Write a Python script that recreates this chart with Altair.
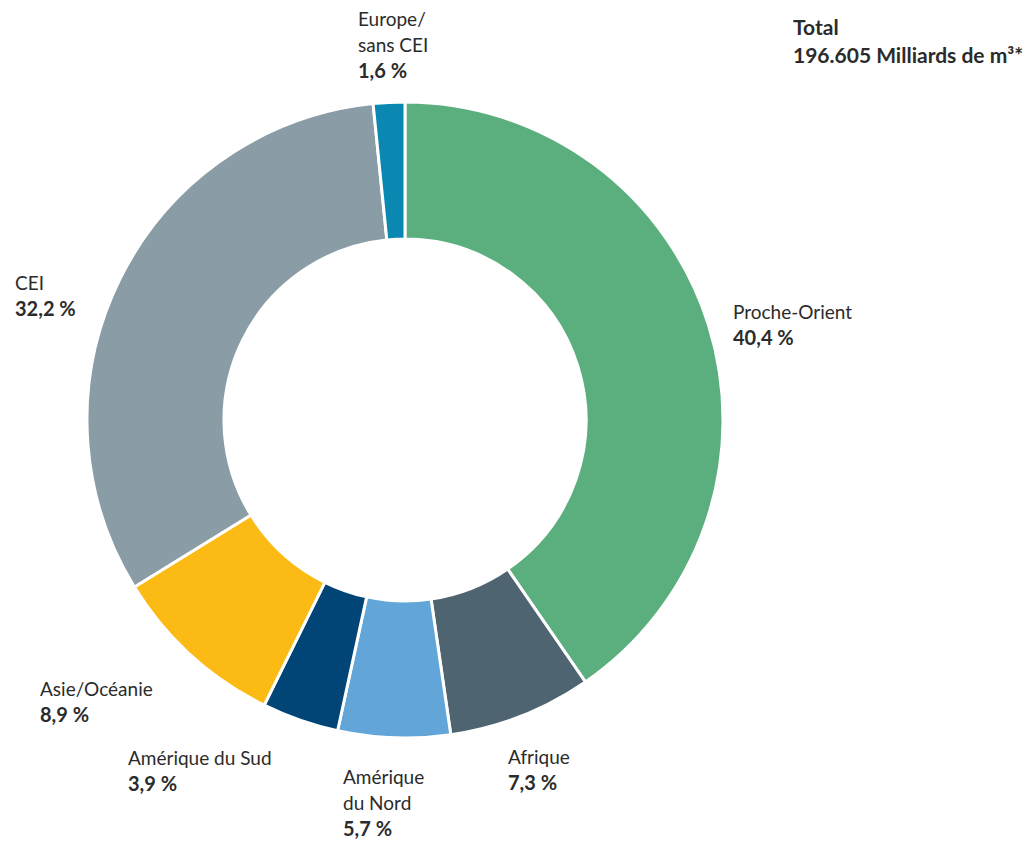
import altair as alt
import pandas as pd

# Data
regions = ["Proche-Orient", "Afrique", "Amérique du Nord", "Amérique du Sud",
           "Asie/Océanie", "CEI", "Europe/sans CEI"]
shares = [40.4, 7.3, 5.7, 3.9, 8.9, 32.2, 1.6]
colors = ["#5BAE7E", "#4E6470", "#62A5D8", "#004576", "#FBBA14", "#8A9CA6", "#0B88B1"]
label_names = ["Proche-Orient", "Afrique", "Amérique\ndu Nord", "Amérique du Sud",
               "Asie/Océanie", "CEI", "Europe/\nsans CEI"]
title_lines = ["Total", "196.605 Milliards de m³*"]

# Layout (page px minus 8px margin) for label anchors: left x, first baseline y
label_pos = [(725, 311), (500, 756), (335, 776), (120, 757),
             (32, 688), (7, 282), (350, 18)]
center = (397, 412)
R_OUT, R_IN = 318, 181
LH = 26
FONT = "Lato"
FS = 19
TXT = "#2b2b2b"

df = pd.DataFrame({"region": regions, "share": shares, "order": list(range(len(regions)))})

rows = []
for name, v, (x, y) in zip(label_names, shares, label_pos):
    n = name.count("\n") + 1
    rows.append({"name": name, "pct": f"{v:.1f}".replace(".", ",") + " %",
                 "x": x, "y": y, "py": y + n * LH})
lab = pd.DataFrame(rows)

arcs = alt.Chart(df).mark_arc(outerRadius=R_OUT, innerRadius=R_IN, stroke="white",
                              strokeWidth=3).encode(
    theta=alt.Theta("share:Q", stack=True),
    order=alt.Order("order:Q"),
    color=alt.Color("region:N", scale=alt.Scale(domain=regions, range=colors), legend=None),
    x=alt.value(center[0]),
    y=alt.value(center[1]),
)

names = alt.Chart(lab).mark_text(align="left", baseline="alphabetic", font=FONT,
                                 fontSize=FS, color=TXT, lineBreak="\n",
                                 lineHeight=LH).encode(
    x=alt.X("x:Q", scale=None), y=alt.Y("y:Q", scale=None), text="name:N")

pcts = alt.Chart(lab).mark_text(align="left", baseline="alphabetic", font=FONT,
                                fontSize=20, fontWeight="bold", color=TXT).encode(
    x=alt.X("x:Q", scale=None), y=alt.Y("py:Q", scale=None), text="pct:N")

tdf = pd.DataFrame({"t": title_lines, "x": [785, 785], "y": [27, 55]})
title = alt.Chart(tdf).mark_text(align="left", baseline="alphabetic", font=FONT,
                                 fontSize=21, fontWeight="bold", color=TXT).encode(
    x=alt.X("x:Q", scale=None), y=alt.Y("y:Q", scale=None), text="t:N")

chart = alt.layer(arcs, names, pcts, title).properties(
    width=1018, height=836, padding=0, autosize=alt.AutoSizeParams(type="none")
).configure_view(stroke=None)

chart.save("out.html", embed_options={"renderer": "svg", "actions": False})
